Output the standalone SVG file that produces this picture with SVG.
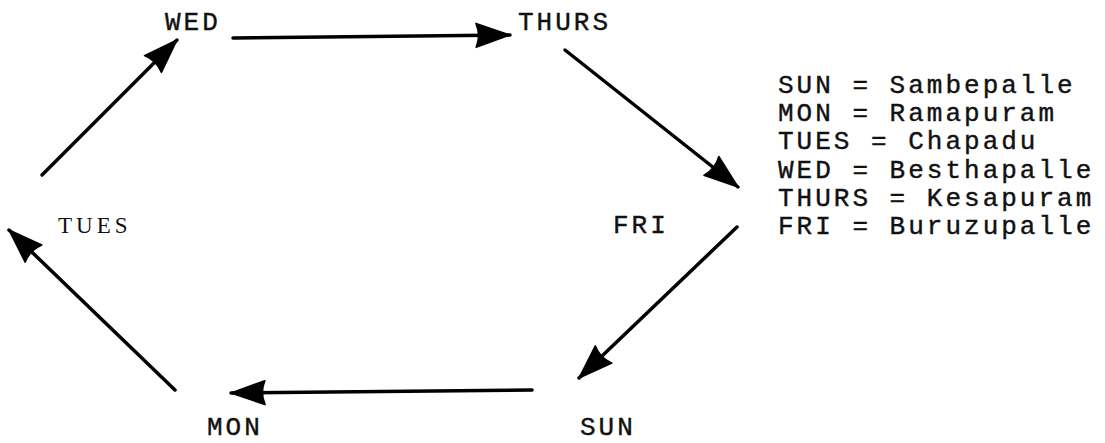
<svg xmlns="http://www.w3.org/2000/svg" width="1105" height="443" viewBox="0 0 1105 443">
<style>
text{font-family:"Liberation Mono","Courier New",monospace;font-size:26px;fill:#111;letter-spacing:3px}
.lbl{stroke:#111;stroke-width:0.4}
.thin{font-family:"Liberation Serif","Times New Roman",serif;font-size:23px;letter-spacing:4px}
.c{fill:none;stroke:#000;stroke-width:3.5;stroke-linecap:round}
</style>
<defs>
<marker id="ah" markerUnits="userSpaceOnUse" markerWidth="40" markerHeight="32" refX="34" refY="16" orient="auto" overflow="visible">
<path d="M0,4 L34,16 L0,28 Q5,16 0,4 Z" fill="#000" stroke="#000" stroke-width="1.5" stroke-linejoin="round"/>
</marker>
</defs>
<rect width="1105" height="443" fill="#fff"/>
<g id="connectors">
<line class="c" x1="42" y1="175" x2="177" y2="40" marker-end="url(#ah)"/>
<line class="c" x1="233" y1="38" x2="510" y2="35" stroke-width="4.5" marker-end="url(#ah)"/>
<line class="c" x1="565" y1="50" x2="738" y2="187" marker-end="url(#ah)"/>
<line class="c" x1="737" y1="227" x2="579" y2="378" marker-end="url(#ah)"/>
<line class="c" x1="532" y1="390" x2="231" y2="393" marker-end="url(#ah)"/>
<line class="c" x1="175" y1="390" x2="9" y2="230" marker-end="url(#ah)"/>
</g>
<g id="wed"><text class="lbl" x="165" y="30">WED</text></g>
<g id="thurs"><text class="lbl" x="518" y="30">THURS</text></g>
<g id="fri"><text class="lbl" x="613" y="233">FRI</text></g>
<g id="sun"><text class="lbl" x="580" y="435">SUN</text></g>
<g id="mon"><text class="lbl" x="207" y="435">MON</text></g>
<g id="tues"><text class="thin" x="58" y="233">TUES</text></g>
<g id="legend">
<text class="lbl" x="778" y="93">SUN = Sambepalle</text>
<text class="lbl" x="778" y="121">MON = Ramapuram</text>
<text class="lbl" x="778" y="149">TUES = Chapadu</text>
<text class="lbl" x="778" y="178">WED = Besthapalle</text>
<text class="lbl" x="778" y="206">THURS = Kesapuram</text>
<text class="lbl" x="778" y="234">FRI = Buruzupalle</text>
</g>
</svg>
